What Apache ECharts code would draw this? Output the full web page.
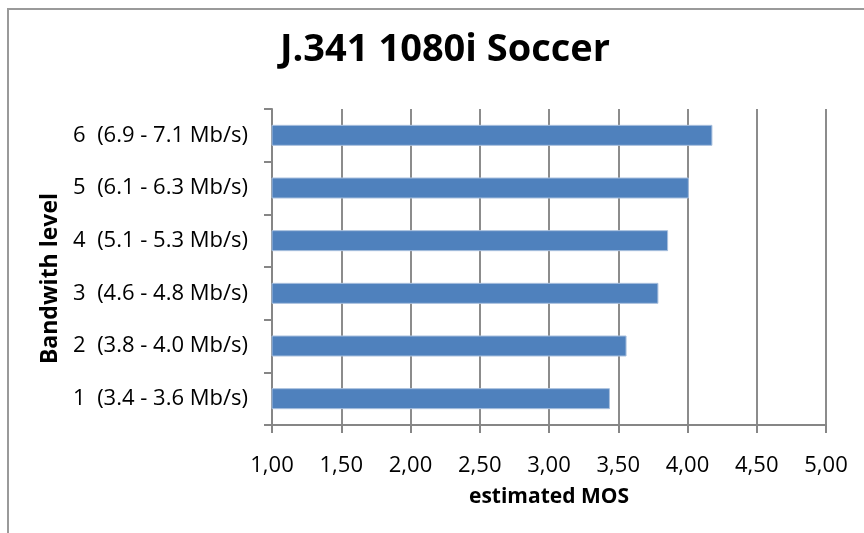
<!DOCTYPE html>
<html>
<head>
<meta charset="utf-8">
<script src="https://cdn.jsdelivr.net/npm/echarts@6/dist/echarts.min.js"></script>
<style>
  html, body { margin: 0; padding: 0; background: #fff; }
  #frame { position: absolute; left: 7px; top: 8px; width: 900px; height: 560px;
           border: 2px solid #9a9a9a; box-sizing: border-box; }
  #chart { position: absolute; left: 0; top: 0; width: 864px; height: 533px; }
</style>
</head>
<body>
<div id="frame"></div>
<div id="chart"></div>
<script>
// Bandwidth levels (bottom to top) and estimated MOS per level
const categories = [
  '1  (3.4 - 3.6 Mb/s)',
  '2  (3.8 - 4.0 Mb/s)',
  '3  (4.6 - 4.8 Mb/s)',
  '4  (5.1 - 5.3 Mb/s)',
  '5  (6.1 - 6.3 Mb/s)',
  '6  (6.9 - 7.1 Mb/s)'
];
const mosValues = [3.44, 3.56, 3.79, 3.86, 4.01, 4.18];
const xMin = 1.0, xMax = 5.0, xStep = 0.5;

const font = '"Open Sans", Lato, sans-serif';
const chart = echarts.init(document.getElementById('chart'), null, { renderer: 'canvas' });

chart.setOption({
  animation: false,
  title: {
    text: 'J.341 1080i Soccer',
    left: 440, top: 26, textAlign: 'center',
    textStyle: { fontFamily: font, fontSize: 38, fontWeight: 'bold', color: '#000' }
  },
  graphic: [{
    type: 'text', left: 39, top: 193, rotation: Math.PI / 2,
    style: {
      text: 'Bandwith level', fontFamily: font, fontSize: 23, fontWeight: 'bold',
      fill: '#000'
    }
  }],
  grid: { left: 272, top: 109, width: 554, height: 316, containLabel: false },
  xAxis: {
    type: 'value', min: xMin, max: xMax, interval: xStep,
    name: 'estimated MOS', nameLocation: 'middle', nameGap: 62,
    nameTextStyle: { fontFamily: font, fontSize: 21, fontWeight: 'bold', color: '#000' },
    axisLine: { show: true, lineStyle: { color: '#868686', width: 2 } },
    axisTick: { show: true, length: 8, lineStyle: { color: '#868686', width: 2 } },
    splitLine: { show: true, lineStyle: { color: '#8c8c8c', width: 2 } },
    axisLabel: {
      margin: 30, fontFamily: font, fontSize: 22, color: '#000',
      formatter: v => v.toFixed(2).replace('.', ',')
    }
  },
  yAxis: {
    type: 'category', data: categories,
    axisLine: { show: true, lineStyle: { color: '#868686', width: 2 } },
    axisTick: { show: true, length: 8, lineStyle: { color: '#868686', width: 2 } },
    axisLabel: { margin: 24, fontFamily: font, fontSize: 22, color: '#000' }
  },
  series: [{
    type: 'bar', data: mosValues, barWidth: 21,
    itemStyle: { color: '#4f81bd', borderColor: '#a9c0de', borderWidth: 1 }
  }]
});
</script>
</body>
</html>
